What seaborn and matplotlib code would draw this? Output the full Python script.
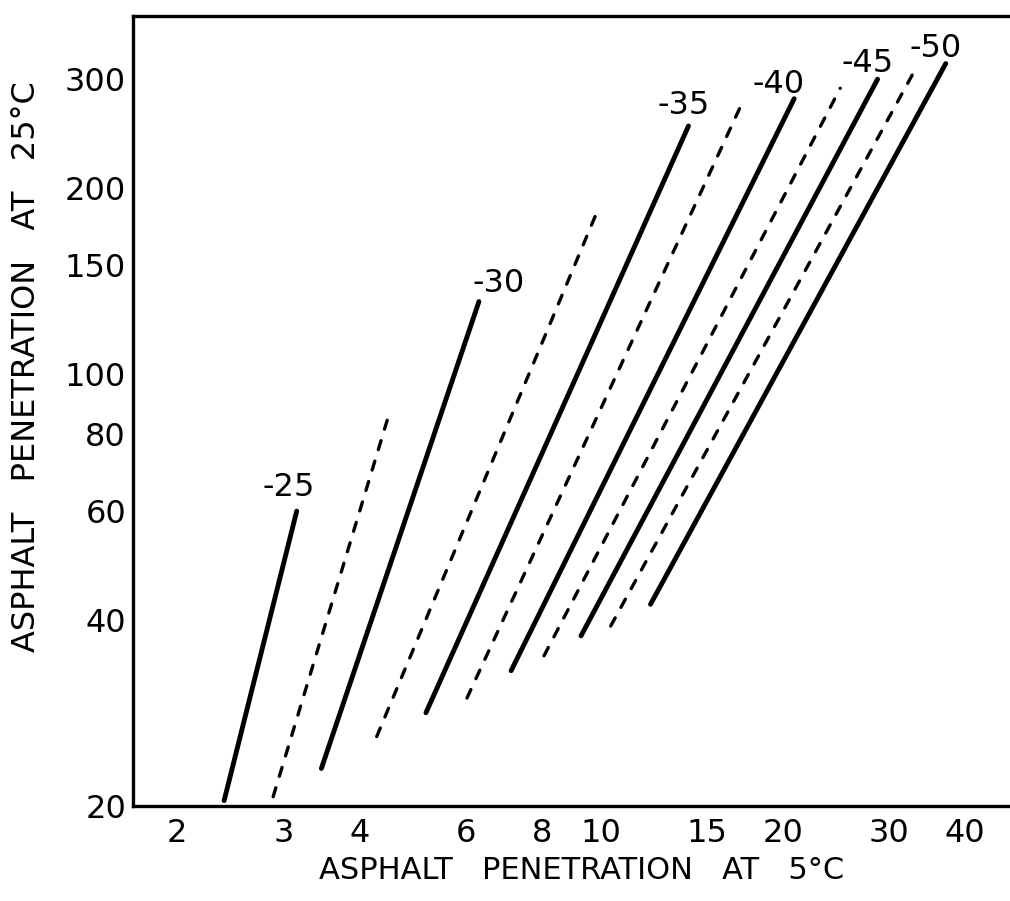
import numpy as np
import pandas as pd
import matplotlib
matplotlib.use("Agg")
import matplotlib.pyplot as plt
import seaborn as sns

# ---- data (log-log) ----
series = ["-25", "d1", "-30", "d2", "-35", "d3", "-40", "d4", "-45", "d5", "-50"]
kinds = ["solid", "dashed", "solid", "dashed", "solid", "dashed",
         "solid", "dashed", "solid", "dashed", "solid"]
x_start = [2.39, 2.88, 3.46, 4.27, 5.15, 6.02, 7.12, 8.07, 9.29, 10.4, 12.1]
y_start = [20.4, 20.7, 23.0, 25.9, 28.3, 29.9, 33.1, 35.0, 37.7, 39.1, 42.4]
x_end = [3.15, 4.49, 6.30, 9.92, 13.98, 17.1, 20.9, 24.9, 28.7, 33.0, 37.2]
y_end = [60.0, 87.0, 131.0, 185.0, 252.0, 273.0, 279.0, 290.0, 300.0, 309.0, 318.0]

label_text = ["-25", "-30", "-35", "-40", "-45", "-50"]
label_x = [3.05, 6.78, 13.7, 19.7, 27.6, 35.8]
label_y = [65.4, 140.0, 272.0, 294.0, 318.0, 336.0]

x_ticks = [2, 3, 4, 5, 6, 7, 8, 9, 10, 15, 20, 30, 40]
x_ticklabels = ["2", "3", "4", "", "6", "", "8", "", "10", "15", "20", "30", "40"]
y_ticks = [20, 30, 40, 50, 60, 70, 80, 90, 100, 150, 200, 300]
y_ticklabels = ["20", "", "40", "", "60", "", "80", "", "100", "150", "200", "300"]

rows = []
for s, k, x0, y0, x1, y1 in zip(series, kinds, x_start, y_start, x_end, y_end):
    rows.append({"series": s, "kind": k, "x": x0, "y": y0})
    rows.append({"series": s, "kind": k, "x": x1, "y": y1})
df = pd.DataFrame(rows)

sns.set_theme(style="white")
plt.rcParams["font.family"] = ["DejaVu Sans"]
plt.rcParams["lines.dash_capstyle"] = "round"
plt.rcParams["lines.solid_capstyle"] = "round"

fig = plt.figure(figsize=(10.10, 9.01), dpi=100)
ax = fig.add_axes([0.1317, 0.1055, 0.8683, 0.877])

sns.lineplot(data=df, x="x", y="y", hue="series", style="kind", size="kind",
             palette=["black"] * len(series),
             dashes={"solid": "", "dashed": (2.8, 3.6)},
             sizes={"solid": 3.5, "dashed": 2.4},
             units="series", estimator=None, sort=False, legend=False, ax=ax)

ax.set_xscale("log")
ax.set_yscale("log")
ax.set_xlim(1.69, 47.5)
ax.set_ylim(20, 380)

ax.xaxis.set_major_locator(matplotlib.ticker.FixedLocator(x_ticks))
ax.xaxis.set_major_formatter(matplotlib.ticker.FixedFormatter(x_ticklabels))
ax.xaxis.set_minor_locator(matplotlib.ticker.NullLocator())
ax.yaxis.set_major_locator(matplotlib.ticker.FixedLocator(y_ticks))
ax.yaxis.set_major_formatter(matplotlib.ticker.FixedFormatter(y_ticklabels))
ax.yaxis.set_minor_locator(matplotlib.ticker.NullLocator())

ax.tick_params(axis="both", direction="in", colors="black", labelsize=23,
               width=2.2, length=8)
ax.tick_params(axis="x", pad=9)
ax.tick_params(axis="y", pad=5, length=10)

for side in ["left", "bottom", "top"]:
    ax.spines[side].set_visible(True)
    ax.spines[side].set_linewidth(2.4)
    ax.spines[side].set_color("black")
ax.spines["right"].set_visible(False)

for t, lx, ly in zip(label_text, label_x, label_y):
    ax.text(lx, ly, t, fontsize=23, ha="center", va="center", color="black")

ax.set_xlabel("ASPHALT   PENETRATION   AT   5°C", fontsize=22, color="black")
ax.set_ylabel("ASPHALT   PENETRATION   AT   25°C", fontsize=23, color="black")
ax.xaxis.set_label_coords(0.512, -0.063)
ax.yaxis.set_label_coords(-0.104, 0.556)

fig.savefig("out.png", dpi=100, facecolor="white")
